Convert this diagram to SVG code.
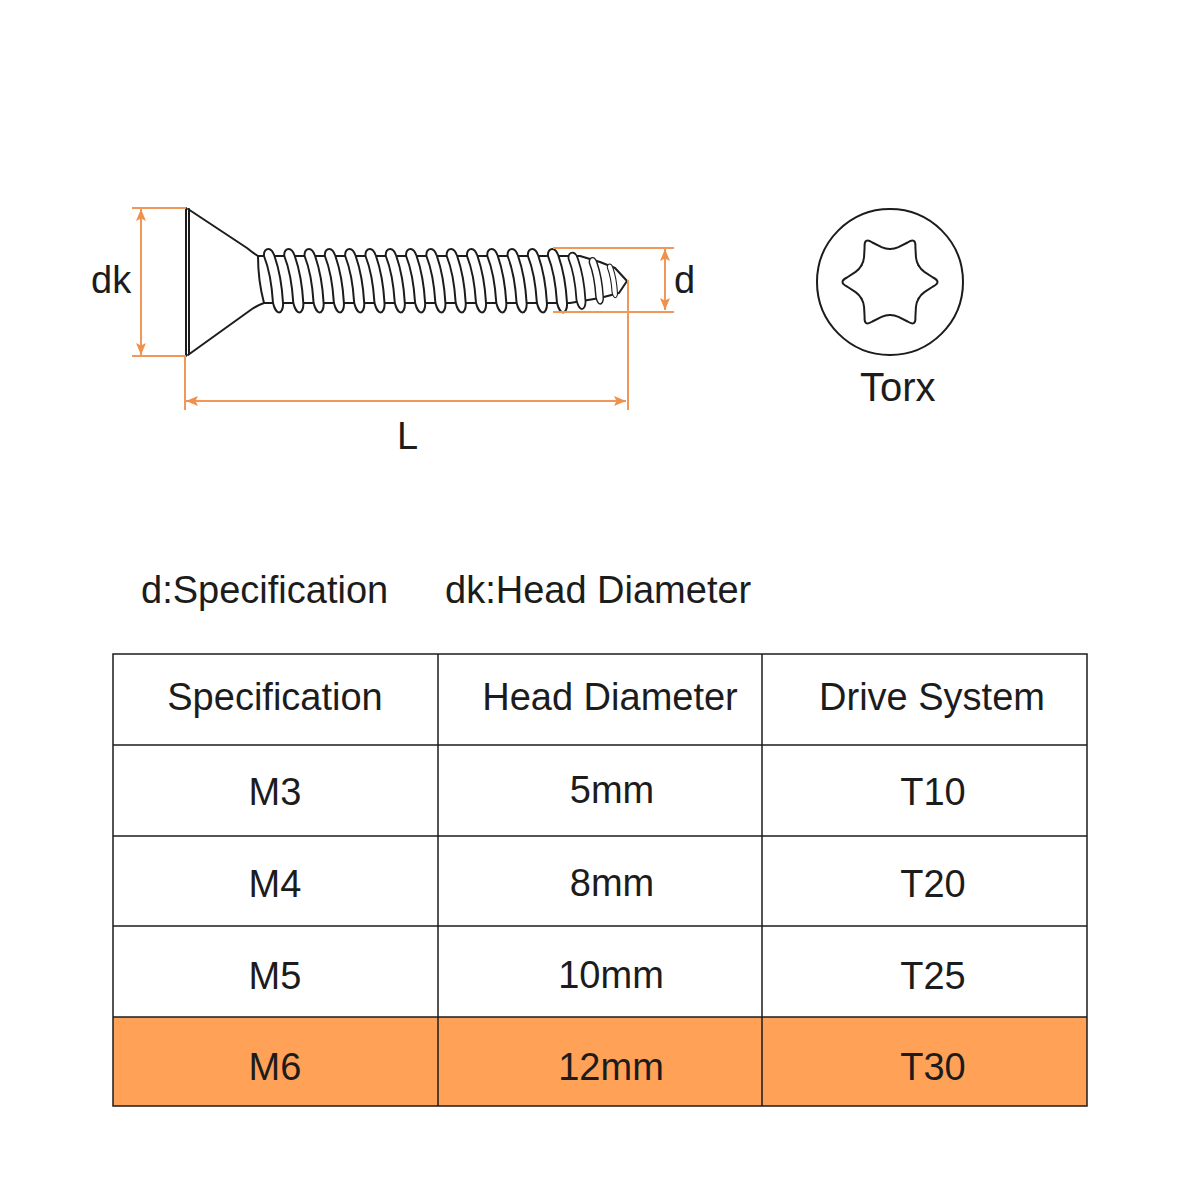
<svg xmlns="http://www.w3.org/2000/svg" width="1200" height="1200" viewBox="0 0 1200 1200">
<style>
text{font-family:"Liberation Sans",Arial,sans-serif;font-size:38px;fill:#1c1c1c}
.m{text-anchor:middle}
.dim{stroke:#f0975a;stroke-width:2;fill:none}
.ah{fill:#f0904a;stroke:none}
.ink{stroke:#1c1c1c;stroke-width:2;fill:none;stroke-linejoin:round;stroke-linecap:round}
.th{stroke:#1c1c1c;stroke-width:2;fill:#fff;stroke-linejoin:round}
.grid{stroke:#1c1c1c;stroke-width:1.5;fill:none}
</style>
<defs>
<path id="thread" class="th" d="M-5,-25 C-5.500,-30 -3,-32 -0.500,-32 C3,-32 4.500,-28 5.500,-25 C10,-12 13,4 14,22 C14.500,28 12,31.500 10,31.500 C7.500,31.500 5,26 4,22 C3,6 1,-10 -5,-25Z"/>
<path id="lobe" class="ink" d="M28.600,-16.500 A20,20 0 0 0 34.400,-10.100 L43,-4.500 C49,-1.500 49,1.500 43,4.500 L34.400,10.100 A20,20 0 0 0 28.600,16.500"/>
<marker id="arr" viewBox="0 0 12 10" refX="12" refY="5" markerWidth="12" markerHeight="10" markerUnits="userSpaceOnUse" orient="auto-start-reverse"><path class="ah" d="M0,0L12,5L0,10L2.500,5Z"/></marker>
</defs>
<rect width="1200" height="1200" fill="#fff"/>

<g id="screw">
<path class="ink" d="M258,256H556L580,256L600,262L615,268L627,281L619,293L600,298L570,303L560,303H264"/>
<path class="ink" d="M186,208V356M189,209V354"/>
<path class="ink" d="M188,209L247,248Q253,253 258,256C258,272 260,288 264,303Q258,305 252,309L188,355"/>
<g transform="translate(0,281)">
<use href="#thread" x="269"/><use href="#thread" x="289.300"/><use href="#thread" x="309.600"/><use href="#thread" x="329.900"/><use href="#thread" x="350.200"/><use href="#thread" x="370.500"/><use href="#thread" x="390.800"/><use href="#thread" x="411.100"/><use href="#thread" x="431.400"/><use href="#thread" x="451.700"/><use href="#thread" x="472"/><use href="#thread" x="492.300"/><use href="#thread" x="512.600"/><use href="#thread" x="532.900"/><use href="#thread" x="553"/>
<use href="#thread" transform="translate(573,0) scale(.89)"/>
<use href="#thread" transform="translate(593,0) scale(.73)"/>
<use href="#thread" transform="translate(610,0) scale(.53)"/>
</g>
</g>

<g id="dimensions">
<path class="dim" d="M132,208H186M132,356H186M185,356V410M628,280V410M553,248H674M553,312H674"/>
<path class="dim" marker-start="url(#arr)" marker-end="url(#arr)" d="M141,209V355"/>
<path class="dim" marker-start="url(#arr)" marker-end="url(#arr)" d="M186,401H626"/>
<path class="dim" marker-start="url(#arr)" marker-end="url(#arr)" d="M665,249V310"/>
<text x="91" y="293">dk</text>
<text x="674" y="293">d</text>
<text x="397" y="449">L</text>
</g>

<g id="torx">
<circle class="ink" cx="890" cy="282" r="73"/>
<g transform="translate(890,282)">
<use href="#lobe"/><use href="#lobe" transform="rotate(60)"/><use href="#lobe" transform="rotate(120)"/><use href="#lobe" transform="rotate(180)"/><use href="#lobe" transform="rotate(240)"/><use href="#lobe" transform="rotate(300)"/>
</g>
<text x="860" y="401" style="font-size:40px">Torx</text>
</g>

<g id="legend">
<text x="141" y="603">d:Specification</text>
<text x="445" y="603">dk:Head Diameter</text>
</g>

<g id="table">
<rect x="113" y="1017" width="974" height="89" fill="#ffa257"/>
<path class="grid" d="M113,654H1087V1106H113ZM438,654V1106M762,654V1106M113,745H1087M113,836H1087M113,926H1087M113,1017H1087"/>
<text class="m" x="275" y="710">Specification</text>
<text class="m" x="610" y="710">Head Diameter</text>
<text class="m" x="932" y="710">Drive System</text>
<text class="m" x="275" y="805">M3</text>
<text class="m" x="612" y="803">5mm</text>
<text class="m" x="933" y="805">T10</text>
<text class="m" x="275" y="897">M4</text>
<text class="m" x="612" y="896">8mm</text>
<text class="m" x="933" y="897">T20</text>
<text class="m" x="275" y="989">M5</text>
<text class="m" x="611" y="988">10mm</text>
<text class="m" x="933" y="989">T25</text>
<text class="m" x="275" y="1080">M6</text>
<text class="m" x="611" y="1080">12mm</text>
<text class="m" x="933" y="1080">T30</text>
</g>
</svg>
